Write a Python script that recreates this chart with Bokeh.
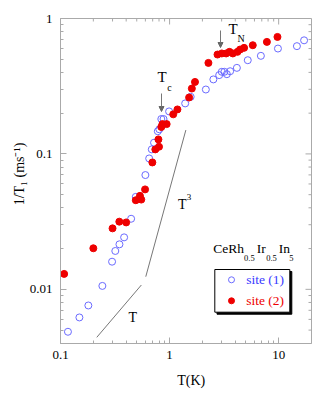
import math
from bokeh.plotting import figure
from bokeh.models import FixedTicker, Label, Arrow, NormalHead, Range1d, BasicTickFormatter
from bokeh.embed import file_html
from bokeh.resources import INLINE

# ---------------- data ----------------
site1_T = [0.117, 0.149, 0.180, 0.242, 0.297, 0.318, 0.347, 0.383, 0.444, 0.49,
           0.60, 0.65, 0.687, 0.72, 0.78, 0.805, 0.84, 0.88, 0.99, 1.39,
           1.56, 2.15, 2.52, 2.85, 3.01, 3.18, 3.35, 3.59, 4.14, 5.21,
           6.87, 9.85, 14.7, 17.1]
site1_R = [0.00486, 0.0062, 0.0076, 0.0106, 0.0160, 0.0192, 0.0215, 0.0242, 0.0332, 0.0482,
           0.0698, 0.0926, 0.108, 0.121, 0.147, 0.152, 0.181, 0.181, 0.206, 0.236,
           0.264, 0.299, 0.355, 0.382, 0.404, 0.404, 0.388, 0.408, 0.432, 0.492,
           0.53, 0.60, 0.625, 0.69]

site2_T = [0.108, 0.20, 0.30, 0.346, 0.40, 0.49, 0.535, 0.55, 0.596, 0.695,
           0.74, 0.80, 0.79, 0.84, 0.86, 0.94, 1.08, 1.18, 1.51, 1.60,
           1.71, 2.27, 2.75, 3.01, 3.30, 3.54, 3.80, 4.19, 4.43, 4.82,
           5.79, 7.80, 9.75]
site2_R = [0.0130, 0.0201, 0.0282, 0.0316, 0.0312, 0.0455, 0.049, 0.046, 0.0547, 0.0865,
           0.108, 0.113, 0.128, 0.158, 0.166, 0.166, 0.196, 0.213, 0.261, 0.304,
           0.340, 0.470, 0.542, 0.552, 0.552, 0.567, 0.552, 0.567, 0.590, 0.607,
           0.635, 0.672, 0.731]

# guide lines  ~T and ~T^3
lineT_T = [0.215, 0.551]
lineT_R = [0.00442, 0.01076]
lineT3_T = [0.605, 1.41]
lineT3_R = [0.0124, 0.150]

x_ticks = [0.1, 1, 10]
y_ticks = [0.01, 0.1, 1]
x_tick_labels = ["0.1", "1", "10"]
y_tick_labels = ["0.01", "0.1", "1"]
x_minor = [0.2, 0.3, 0.4, 0.5, 0.6, 0.7, 0.8, 0.9, 2, 3, 4, 5, 6, 7, 8, 9]
y_minor = [0.005, 0.006, 0.007, 0.008, 0.009, 0.02, 0.03, 0.04, 0.05, 0.06, 0.07,
           0.08, 0.09, 0.2, 0.3, 0.4, 0.5, 0.6, 0.7, 0.8, 0.9]

# ---------------- layout ----------------
X_START, X_END = 0.1, 20.0
Y_START, Y_END = 10 ** -2.4, 1.0
FRAME_L, FRAME_R, FRAME_T, FRAME_B = 60, 311, 18, 343  # page pixels
PAGE_MARGIN = 0   # bokeh's page template has no body margin
MAJOR_IN, MINOR_IN = 6, 3

SERIF = "Liberation Serif"
BLUE = "#6b6bff"
BLUE_TXT = "#3a3aff"
RED = "#ee0000"
GRAY = "#aaaaaa"
NBSP = "\u00a0"


def px_x(px):
    lx0, lx1 = math.log10(X_START), math.log10(X_END)
    return 10 ** (lx0 + (px - FRAME_L) / (FRAME_R - FRAME_L) * (lx1 - lx0))


def py_y(py):
    ly0, ly1 = math.log10(Y_START), math.log10(Y_END)
    return 10 ** (ly1 - (py - FRAME_T) / (FRAME_B - FRAME_T) * (ly1 - ly0))


W = 325
H = 396
p = figure(width=W, height=H, x_axis_type="log", y_axis_type="log",
           x_range=Range1d(X_START, X_END), y_range=Range1d(Y_START, Y_END),
           output_backend="svg", toolbar_location=None,
           min_border_left=FRAME_L - PAGE_MARGIN,
           min_border_right=W - (FRAME_R - PAGE_MARGIN),
           min_border_top=FRAME_T - PAGE_MARGIN,
           min_border_bottom=H - (FRAME_B - PAGE_MARGIN))
p.xgrid.visible = False
p.ygrid.visible = False
p.outline_line_color = GRAY
p.background_fill_color = "white"
p.border_fill_color = "white"

bottom_ax = p.below[0]
left_ax = p.left[0]
bottom_ax.ticker = FixedTicker(ticks=x_ticks, minor_ticks=x_minor)
left_ax.ticker = FixedTicker(ticks=y_ticks, minor_ticks=y_minor)
bottom_ax.major_label_overrides = dict(zip([str(t) for t in x_ticks], x_tick_labels))
left_ax.major_label_overrides = dict(zip([str(t) for t in y_ticks], y_tick_labels))

for ax in (bottom_ax, left_ax):
    ax.axis_line_color = GRAY
    ax.major_tick_line_color = GRAY
    ax.minor_tick_line_color = GRAY
    ax.major_tick_in = MAJOR_IN
    ax.major_tick_out = 0
    ax.minor_tick_in = MINOR_IN
    ax.minor_tick_out = 0
    ax.formatter = BasicTickFormatter()
    ax.major_label_text_font = SERIF
    ax.major_label_text_font_size = "13px"
    ax.major_label_text_color = "black"
    ax.major_label_standoff = 8
    ax.axis_label_text_font = SERIF
    ax.axis_label_text_font_style = "normal"
    ax.axis_label_text_font_size = "14px"
    ax.axis_label_text_color = "black"

bottom_ax.major_label_standoff = 7
bottom_ax.axis_label = NBSP * 3 + "T(K)"
bottom_ax.axis_label_standoff = 11
left_ax.axis_label = NBSP * 4 + "1/T\u2081 (ms\u207b\u00b9)"
left_ax.axis_label_standoff = 0

# ticks on top and right edges (inward)
top_major_end = py_y(FRAME_T + MAJOR_IN)
top_minor_end = py_y(FRAME_T + MINOR_IN)
p.segment(x0=x_ticks, y0=[Y_END] * len(x_ticks), x1=x_ticks,
          y1=[top_major_end] * len(x_ticks), line_color=GRAY, line_width=1)
p.segment(x0=x_minor, y0=[Y_END] * len(x_minor), x1=x_minor,
          y1=[top_minor_end] * len(x_minor), line_color=GRAY, line_width=1)
right_major_end = px_x(FRAME_R - MAJOR_IN)
right_minor_end = px_x(FRAME_R - MINOR_IN)
p.segment(x0=[X_END] * len(y_ticks), y0=y_ticks, x1=[right_major_end] * len(y_ticks),
          y1=y_ticks, line_color=GRAY, line_width=1)
p.segment(x0=[X_END] * len(y_minor), y0=y_minor, x1=[right_minor_end] * len(y_minor),
          y1=y_minor, line_color=GRAY, line_width=1)

# guide lines
p.line(lineT_T, lineT_R, line_color="#777777", line_width=1)
p.line(lineT3_T, lineT3_R, line_color="#777777", line_width=1)

# data
p.scatter(site1_T, site1_R, marker="circle", size=7, fill_color=None,
          line_color=BLUE, line_width=1)
p.scatter(site2_T, site2_R, marker="circle", size=7, fill_color=RED,
          line_color=RED, line_width=1)


def lab(text, px, py, size, align="center", color="black", angle=0.0, baseline="middle"):
    p.add_layout(Label(x=px_x(px), y=py_y(py), text=text, text_font=SERIF,
                       text_font_size=f"{size}px", text_align=align,
                       text_baseline=baseline, text_color=color, angle=angle))


# arrows
head = dict(size=5, fill_color="#666666", line_color="#666666", line_width=1)
p.add_layout(Arrow(end=NormalHead(**head), x_start=px_x(161), y_start=py_y(93),
                   x_end=px_x(161), y_end=py_y(111), line_color="#777777", line_width=1))
p.add_layout(Arrow(end=NormalHead(**head), x_start=px_x(220), y_start=py_y(30),
                   x_end=px_x(220), y_end=py_y(47), line_color="#777777", line_width=1))

# annotations
lab("T", 161.7, 76.7, 15)
lab("c", 169, 87, 10)
lab("T", 232.7, 28.3, 15)
lab("N", 240.5, 38, 10)
lab("T", 132.3, 317.3, 14)
lab("T", 181.7, 204, 14)
lab("3", 188.5, 196.5, 9)

# compound name
lab("CeRh", 212.7, 248, 13.5, align="left")
lab("0.5", 243.5, 257, 8.5, align="left")
lab("Ir", 256.2, 248, 13.5, align="left")
lab("0.5", 265.7, 257, 8.5, align="left")
lab("In", 278.3, 248, 13.5, align="left")
lab("5", 288.7, 257, 8.5, align="left")

# legend box with shadow
p.quad(left=[px_x(216.5)], right=[px_x(291.3)], top=[py_y(271)], bottom=[py_y(313.7)],
       fill_color="black", line_color="black")
p.quad(left=[px_x(214.3)], right=[px_x(289.3)], top=[py_y(269)], bottom=[py_y(311.7)],
       fill_color="white", line_color="black", line_width=1)
p.scatter([px_x(231)], [py_y(279.3)], marker="circle", size=6, fill_color=None,
          line_color=BLUE, line_width=1)
p.scatter([px_x(231)], [py_y(300.3)], marker="circle", size=6, fill_color=RED,
          line_color=RED)
lab("site (1)", 245.7, 279.3, 13.5, align="left", color=BLUE_TXT)
lab("site (2)", 245.7, 300.3, 13.5, align="left", color=RED)

open("out.html", "w").write(file_html(p, INLINE))
